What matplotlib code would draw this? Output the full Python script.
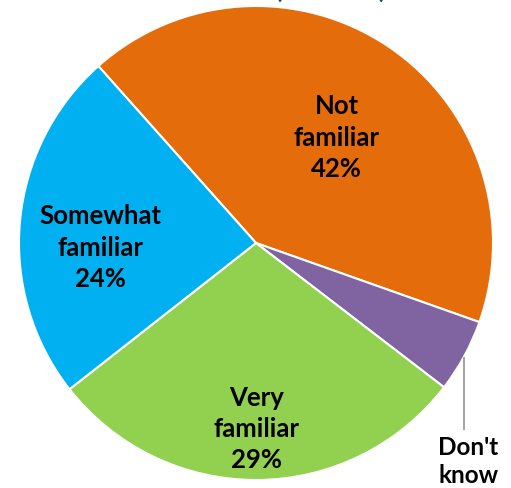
import matplotlib
matplotlib.use("Agg")
import matplotlib.pyplot as plt
import numpy as np

categories = ["Not\nfamiliar", "Don't\nknow", "Very\nfamiliar", "Somewhat\nfamiliar"]
values = [42, 5, 29, 24]
colors = ["#E46C0A", "#8064A2", "#92D050", "#00B0F0"]
title_text = "(N=1000)"

plt.rcParams['font.family'] = ['Lato', 'DejaVu Sans']

fig = plt.figure(figsize=(5.11, 4.88), dpi=100)
ax = fig.add_axes([0, 0, 1, 1])
start = 131.7
wedges, _ = ax.pie(values, colors=colors, startangle=start, counterclock=False,
                   wedgeprops=dict(edgecolor="white", linewidth=1.5), radius=1.0)
ax.set_xlim(-256/237, 255/237)
ax.set_ylim(-(488-243)/237, 243/237)
ax.set_aspect('equal')
ax.axis('off')

# label placement per slice: (radius, angle offset from mid)
place = {0: (0.56, -3.5), 2: (0.785, 0.0), 3: (0.655, 6.8)}
for i, w in enumerate(wedges):
    mid = np.deg2rad((w.theta1 + w.theta2) / 2)
    pct = f"{values[i]}%"
    if i in place:
        r, off = place[i]
        a = mid + np.deg2rad(off)
        ax.text(r*np.cos(a), r*np.sin(a), f"{categories[i]}\n{pct}", ha='center', va='center',
                fontsize=18.5, fontweight='bold', color='black', linespacing=1.36)
    else:
        x0, y0 = np.cos(mid), np.sin(mid)
        ax.plot([x0, x0], [y0 - 0.005, -0.79], color='#A6A6A6', lw=1.5, solid_capstyle='butt')
        ax.text(x0 + 0.017, -0.815, categories[i], ha='center', va='top',
                fontsize=17.5, fontweight='bold', color='black', linespacing=1.28)

ax.text(0.316, 1.035, title_text, ha='center', va='baseline', fontsize=19,
        fontweight='bold', color='#1F497D')

fig.savefig("out.png", dpi=100)
